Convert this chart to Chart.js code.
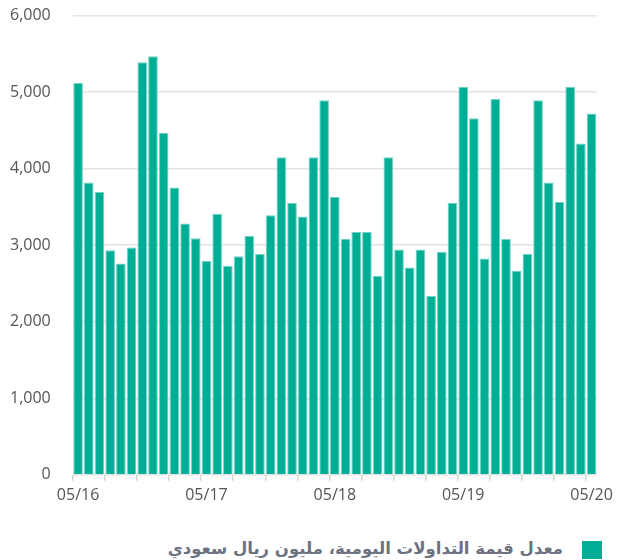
<!DOCTYPE html>
<html lang="ar">
<head>
<meta charset="utf-8">
<script src="https://cdn.jsdelivr.net/npm/chart.js@4.4.1/dist/chart.umd.min.js"></script>
<style>
  html, body { margin: 0; padding: 0; background: #ffffff; }
  #wrap { position: relative; width: 618px; height: 560px; overflow: hidden; }
  #chartBox { position: absolute; left: -12px; top: -16px; width: 630px; height: 526px; }
  #legendSwatch {
    position: absolute; left: 582px; top: 541px; width: 20px; height: 18px;
    background: #00ae96;
  }
  #legendText {
    position: absolute; right: 55px; top: 538px; line-height: 22px;
    font-family: "DejaVu Sans", sans-serif; font-weight: bold; font-size: 16.5px;
    color: #6d7280; direction: rtl; white-space: nowrap;
  }
</style>
</head>
<body>
<div id="wrap">
  <div id="chartBox"><canvas id="c"></canvas></div>
  <div id="legendSwatch"></div>
  <div id="legendText"></div>
</div>
<script>
// Monthly categories, May 2016 to May 2020
const months = [
  "05/16","06/16","07/16","08/16","09/16","10/16","11/16","12/16",
  "01/17","02/17","03/17","04/17","05/17","06/17","07/17","08/17","09/17","10/17","11/17","12/17",
  "01/18","02/18","03/18","04/18","05/18","06/18","07/18","08/18","09/18","10/18","11/18","12/18",
  "01/19","02/19","03/19","04/19","05/19","06/19","07/19","08/19","09/19","10/19","11/19","12/19",
  "01/20","02/20","03/20","04/20","05/20"
];

// Average daily traded value, SAR millions
const dailyValue = [
  5120, 3820, 3695, 2935, 2760, 2970, 5390, 5470, 4470, 3755, 3285, 3090,
  2795, 3410, 2730, 2855, 3120, 2885, 3390, 4150, 3550, 3375, 4150, 4895,
  3630, 3080, 3175, 3175, 2600, 4150, 2945, 2710, 2945, 2335, 2915, 3550,
  5070, 4660, 2825, 4910, 3080, 2665, 2885, 4895, 3820, 3565, 5070, 4330,
  4720
];

// Only yearly labels are printed on the time axis
const shownLabels = ["05/16", "05/17", "05/18", "05/19", "05/20"];

const yTicks = [0, 1000, 2000, 3000, 4000, 5000, 6000];

const seriesName = "معدل قيمة التداولات اليومية، مليون ريال سعودي";
document.getElementById("legendText").textContent = seriesName;

const axisFont = { family: "'Open Sans', sans-serif", size: 16 };

new Chart(document.getElementById("c"), {
  type: "bar",
  data: {
    labels: months,
    datasets: [{
      label: seriesName,
      data: dailyValue,
      backgroundColor: "#00ae96",
      borderColor: "#6fd3c4",
      borderWidth: { top: 1, left: 1, right: 1, bottom: 0 },
      borderSkipped: false,
      categoryPercentage: 1.0,
      barPercentage: 0.9
    }]
  },
  options: {
    responsive: true,
    maintainAspectRatio: false,
    animation: false,
    layout: { padding: { left: 0, right: 20, top: 6, bottom: 0 } },
    plugins: {
      legend: { display: false },
      tooltip: { enabled: false }
    },
    scales: {
      x: {
        offset: true,
        border: { display: false },
        grid: {
          offset: true,
          drawOnChartArea: false,
          drawTicks: true,
          tickLength: 6,
          lineWidth: 1.5,
          color: (ctx) => (ctx.index % 3 === 0 && ctx.index < months.length) ? "#d4d4d4" : "rgba(0,0,0,0)"
        },
        ticks: {
          autoSkip: false,
          maxRotation: 0,
          minRotation: 0,
          padding: 5,
          color: "#555555",
          font: axisFont,
          callback: function (value, index) {
            const lab = months[index];
            return shownLabels.includes(lab) ? lab : "";
          }
        }
      },
      y: {
        min: 0,
        max: 6000,
        border: { display: false },
        afterBuildTicks: (axis) => { axis.ticks = yTicks.map(v => ({ value: v })); },
        grid: {
          drawTicks: false,
          color: "#e4e4e4",
          lineWidth: 1.5
        },
        ticks: {
          padding: 22,
          color: "#555555",
          font: axisFont,
          callback: (v) => v.toLocaleString("en-US")
        }
      }
    }
  }
});
</script>
</body>
</html>
